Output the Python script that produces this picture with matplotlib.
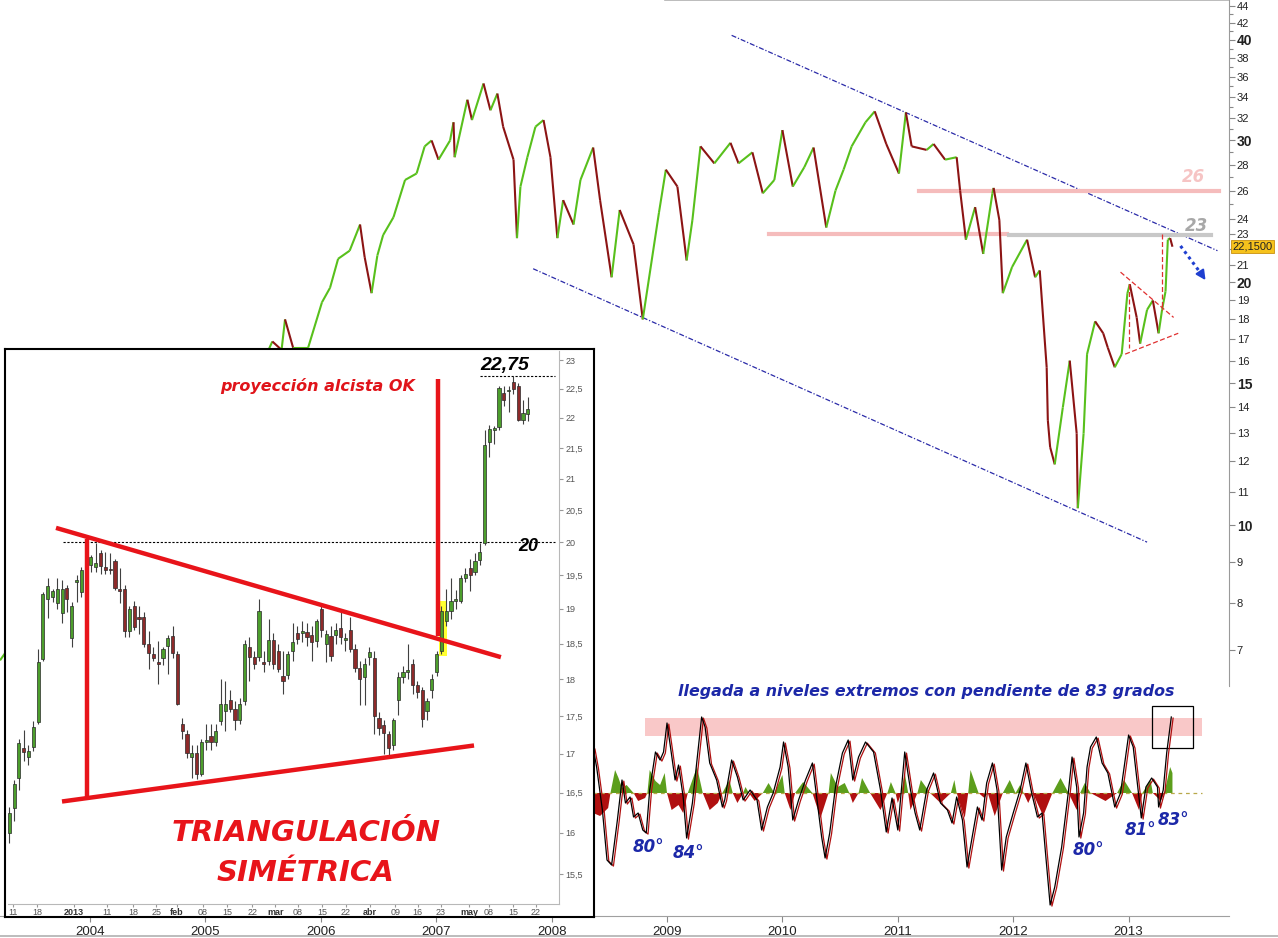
import numpy as np
import matplotlib
matplotlib.use("Agg")
import matplotlib.pyplot as plt
from matplotlib.collections import LineCollection
from matplotlib.patches import Rectangle
from matplotlib import transforms as mtrans

W, H = 1278, 938
plt.rcParams['font.family'] = ['DejaVu Sans']

# --------------------------------------------------------------------------- #
# Data
# --------------------------------------------------------------------------- #
# main price: decimal year, close (log scale, 2003-2013)
price_year = [2003.22, 2003.57, 2004.00, 2004.43, 2004.87, 2005.21, 2005.47, 2005.58,
              2005.66, 2005.69, 2005.76, 2005.89, 2006.01, 2006.08, 2006.15, 2006.25,
              2006.34, 2006.38, 2006.44, 2006.49, 2006.54, 2006.63, 2006.73, 2006.83,
              2006.90, 2006.96, 2007.02, 2007.12, 2007.15, 2007.16, 2007.27, 2007.31,
              2007.41, 2007.47, 2007.53, 2007.58, 2007.67, 2007.70, 2007.73, 2007.79,
              2007.86, 2007.93, 2007.99, 2008.05, 2008.10, 2008.19, 2008.25, 2008.36,
              2008.42, 2008.52, 2008.59, 2008.71, 2008.79, 2008.93, 2008.99, 2009.09,
              2009.17, 2009.22, 2009.29, 2009.41, 2009.55, 2009.62, 2009.74, 2009.83,
              2009.93, 2010.00, 2010.09, 2010.19, 2010.27, 2010.38, 2010.46, 2010.53,
              2010.60, 2010.72, 2010.80, 2010.90, 2011.01, 2011.07, 2011.12, 2011.25,
              2011.31, 2011.41, 2011.51, 2011.54, 2011.59, 2011.67, 2011.74, 2011.82,
              2011.83, 2011.88, 2011.91, 2011.99, 2012.12, 2012.19, 2012.23, 2012.29,
              2012.30, 2012.32, 2012.36, 2012.43, 2012.49, 2012.55, 2012.56, 2012.61,
              2012.64, 2012.71, 2012.78, 2012.82, 2012.88, 2012.94, 2012.99, 2013.01,
              2013.07, 2013.10, 2013.16, 2013.21, 2013.26, 2013.29, 2013.32, 2013.34,
              2013.36, 2013.38]
price_close = [6.8, 8.0, 9.6, 11.2, 12.8, 14.3, 15.6, 16.9,
               16.5, 18.0, 16.6, 16.6, 18.9, 19.7, 21.4, 21.9,
               23.6, 21.5, 19.4, 21.6, 22.9, 24.1, 26.8, 27.3,
               29.5, 30.0, 28.4, 30.0, 31.6, 28.6, 33.7, 31.8,
               35.3, 32.7, 34.3, 31.2, 28.4, 22.7, 26.3, 28.6,
               31.2, 31.8, 28.6, 22.7, 25.3, 23.6, 26.8, 29.4,
               25.3, 20.3, 24.6, 22.3, 18.0, 24.4, 27.6, 26.3,
               21.3, 23.9, 29.5, 28.1, 29.8, 28.1, 29.0, 25.8,
               26.8, 30.9, 26.3, 27.8, 29.4, 23.4, 26.0, 27.6,
               29.5, 31.6, 32.6, 29.7, 27.3, 32.5, 29.5, 29.2,
               29.7, 28.4, 28.6, 26.0, 22.6, 24.8, 21.7, 25.8,
               26.2, 23.9, 19.4, 20.9, 22.6, 20.3, 20.7, 15.7,
               13.5, 12.5, 11.9, 14.0, 16.0, 13.0, 10.5, 13.0,
               16.3, 17.9, 17.3, 16.6, 15.7, 16.3, 19.4, 19.9,
               18.1, 16.8, 18.5, 19.0, 17.3, 18.5, 19.5, 22.6,
               22.7, 22.15]

price_ticks = [7, 8, 9, 10, 11, 12, 13, 14, 15, 16, 17, 18, 19, 20, 21, 23, 24,
               26, 28, 30, 32, 34, 36, 38, 40, 42, 44]
price_bold = [10, 15, 20, 30, 40]
price_minor = [22, 25, 27, 29, 31, 33, 35, 37, 39, 41, 43]
years = list(range(2004, 2014))

# oscillator (black/red lines) and histogram
osc_year = [2008.36, 2008.39, 2008.44, 2008.48, 2008.52, 2008.57, 2008.61, 2008.64,
            2008.68, 2008.71, 2008.75, 2008.79, 2008.82, 2008.85, 2008.90, 2008.94,
            2008.97, 2009.00, 2009.03, 2009.07, 2009.10, 2009.14, 2009.17, 2009.22,
            2009.26, 2009.30, 2009.33, 2009.37, 2009.43, 2009.48, 2009.50, 2009.56,
            2009.61, 2009.66, 2009.72, 2009.78, 2009.82, 2009.87, 2009.92, 2009.98,
            2010.01, 2010.05, 2010.09, 2010.14, 2010.20, 2010.26, 2010.30, 2010.34,
            2010.37, 2010.41, 2010.46, 2010.52, 2010.57, 2010.61, 2010.66, 2010.72,
            2010.79, 2010.85, 2010.90, 2010.95, 2011.00, 2011.06, 2011.11, 2011.15,
            2011.19, 2011.25, 2011.31, 2011.37, 2011.43, 2011.47, 2011.51, 2011.56,
            2011.60, 2011.64, 2011.69, 2011.73, 2011.77, 2011.82, 2011.86, 2011.90,
            2011.94, 2012.00, 2012.06, 2012.11, 2012.16, 2012.21, 2012.25, 2012.28,
            2012.32, 2012.36, 2012.42, 2012.48, 2012.51, 2012.55, 2012.57, 2012.61,
            2012.64, 2012.67, 2012.72, 2012.77, 2012.82, 2012.88, 2012.93, 2012.97,
            2013.00, 2013.04, 2013.11, 2013.15, 2013.20, 2013.25, 2013.26, 2013.30,
            2013.33, 2013.37]
osc_val = [45, 26, -17, -67, -72, -27, 13, -10,
           -4, -24, -20, -37, -40, 3, 41, 33,
           41, 70, 46, 13, 28, -4, -45, -10,
           33, 76, 66, 30, 13, -14, -7, 33,
           16, -7, 3, -7, -37, -14, 0, 26,
           51, 26, -27, -7, 13, 30, -7, -44,
           -65, -40, 6, 40, 53, 13, 36, 51,
           41, 3, -39, -5, -37, 41, 3, -20,
           -37, 3, 20, -10, -17, -30, -4, -27,
           -74, -47, -14, -27, 10, 30, 3, -77,
           -44, -20, 3, 30, 0, -24, -20, -60,
           -112, -94, -54, 3, 36, 6, -44, -20,
           26, 46, 56, 30, 20, -14, 0, 33,
           58, 46, -25, 6, 15, 6, -14, 3,
           40, 76]
hist_year = [2008.36, 2008.42, 2008.49, 2008.51, 2008.55, 2008.58, 2008.61, 2008.65,
             2008.71, 2008.75, 2008.81, 2008.83, 2008.85, 2008.90, 2008.94, 2008.98,
             2009.00, 2009.04, 2009.10, 2009.14, 2009.18, 2009.26, 2009.31, 2009.37,
             2009.44, 2009.48, 2009.54, 2009.57, 2009.61, 2009.66, 2009.68, 2009.71,
             2009.76, 2009.83, 2009.88, 2009.93, 2010.00, 2010.02, 2010.07, 2010.11,
             2010.18, 2010.26, 2010.33, 2010.40, 2010.42, 2010.48, 2010.54, 2010.58,
             2010.61, 2010.66, 2010.69, 2010.76, 2010.85, 2010.91, 2010.94, 2010.98,
             2011.00, 2011.03, 2011.06, 2011.09, 2011.11, 2011.17, 2011.20, 2011.28,
             2011.37, 2011.46, 2011.49, 2011.51, 2011.58, 2011.61, 2011.63, 2011.70,
             2011.75, 2011.78, 2011.84, 2011.91, 2011.97, 2012.02, 2012.06, 2012.09,
             2012.13, 2012.17, 2012.26, 2012.34, 2012.41, 2012.48, 2012.55, 2012.58,
             2012.62, 2012.67, 2012.80, 2012.90, 2012.96, 2013.03, 2013.09, 2013.12,
             2013.19, 2013.21, 2013.28, 2013.31, 2013.36, 2013.38]
hist_val = [-20, -23, -15, 0, 23, 15, 5, 8,
            0, -8, -5, 0, 23, 12, 8, 20,
            0, -17, -12, -20, 0, 26, 0, -17,
            -10, 0, 13, 0, -10, 0, 6, 0,
            -8, 0, 10, 0, 18, 0, -17, 0,
            11, 0, -25, 0, 20, 6, 10, 0,
            -10, 0, 15, 0, -17, 0, 11, 0,
            -10, 0, 20, 0, -17, 0, 13, 0,
            -10, 0, 13, 0, -25, 0, 23, 0,
            -5, 0, -23, 0, 13, 0, 8, 0,
            -10, 0, -23, 0, 15, 0, -17, 0,
            10, 0, -8, 0, 13, 0, -17, 0,
            13, 0, -8, 0, 26, 20]

# inset: daily candles Dec 2012 - May 2013
c_open = [16.00, 16.31, 16.69, 17.08, 16.96, 17.09, 17.42, 18.29, 19.14, 19.17,
          19.09, 18.94, 19.31, 18.58, 19.40, 19.25, 19.75, 19.65, 19.62, 19.83,
          19.62, 19.59, 19.72, 19.29, 19.29, 18.68, 19.05, 18.88, 18.89, 18.50,
          18.36, 18.24, 18.30, 18.47, 18.61, 18.36, 17.40, 17.26, 16.96, 17.01,
          16.74, 17.15, 17.23, 17.16, 17.43, 17.57, 17.72, 17.60, 17.45, 17.70,
          18.45, 18.31, 18.31, 18.24, 18.26, 18.55, 18.40, 18.05, 18.06, 18.40,
          18.65, 18.65, 18.66, 18.62, 18.54, 19.00, 18.50, 18.61, 18.62, 18.72,
          18.55, 18.70, 18.42, 18.16, 18.04, 18.31, 18.30, 17.48, 17.38, 17.26,
          17.12, 17.72, 18.03, 18.10, 18.22, 17.92, 17.86, 17.57, 17.86, 18.10,
          18.40, 18.82, 18.97, 19.12, 19.12, 19.45, 19.60, 19.55, 19.73, 19.98,
          21.60, 21.80, 21.85, 22.42, 22.46, 22.62, 22.55, 21.96, 22.06]
c_high = [16.32, 16.66, 17.20, 17.32, 17.11, 17.43, 18.43, 19.25, 19.45, 19.30,
          19.45, 19.42, 19.35, 19.10, 19.50, 19.62, 19.95, 19.80, 19.98, 19.88,
          19.85, 19.83, 19.75, 19.60, 19.35, 19.05, 19.12, 19.05, 18.95, 18.68,
          18.45, 18.54, 18.45, 18.62, 18.75, 18.40, 17.48, 17.32, 17.11, 17.11,
          17.20, 17.40, 17.40, 17.40, 18.00, 17.98, 17.85, 17.70, 17.75, 18.55,
          18.60, 18.40, 19.15, 18.40, 18.85, 18.65, 18.50, 18.40, 18.40, 18.80,
          18.75, 18.82, 18.79, 18.75, 18.85, 19.08, 18.70, 18.75, 18.80, 18.95,
          18.65, 18.88, 18.50, 18.25, 18.30, 18.45, 18.40, 17.55, 17.45, 17.30,
          17.48, 18.10, 18.18, 18.50, 18.28, 17.98, 17.90, 17.74, 18.08, 18.40,
          19.05, 19.30, 19.45, 19.28, 19.50, 19.60, 19.75, 19.83, 19.98, 21.80,
          21.88, 21.87, 22.55, 22.55, 22.55, 22.72, 22.60, 22.30, 22.35]
c_low = [15.88, 16.15, 16.53, 16.91, 16.86, 17.04, 17.40, 18.25, 18.87, 19.10,
         19.00, 18.80, 18.95, 18.45, 19.10, 19.17, 19.55, 19.55, 19.55, 19.52,
         19.52, 19.52, 19.28, 19.08, 18.60, 18.60, 18.70, 18.64, 18.45, 18.15,
         18.25, 17.93, 18.20, 18.08, 18.30, 17.65, 17.20, 16.95, 16.69, 16.68,
         16.72, 17.05, 17.05, 17.10, 17.38, 17.30, 17.55, 17.32, 17.40, 17.65,
         17.98, 18.15, 18.25, 18.10, 18.20, 18.15, 18.10, 17.80, 18.00, 18.26,
         18.50, 18.52, 18.47, 18.25, 18.45, 18.60, 18.24, 18.25, 18.50, 18.50,
         18.40, 18.38, 18.10, 17.65, 17.65, 18.20, 17.26, 17.25, 17.00, 16.98,
         17.05, 17.52, 17.95, 18.00, 17.80, 17.75, 17.35, 17.45, 17.75, 18.05,
         18.35, 18.75, 18.85, 19.00, 19.08, 19.40, 19.27, 19.50, 19.65, 19.95,
         21.35, 21.57, 21.80, 22.20, 22.10, 22.40, 21.95, 21.90, 21.95]
c_close = [16.25, 16.61, 17.14, 17.03, 17.04, 17.36, 18.24, 19.22, 19.34, 19.27,
           19.29, 19.29, 19.14, 19.05, 19.42, 19.57, 19.65, 19.77, 19.68, 19.64,
           19.58, 19.57, 19.31, 19.26, 18.68, 19.00, 18.74, 18.85, 18.50, 18.37,
           18.30, 18.22, 18.43, 18.58, 18.37, 17.67, 17.30, 17.01, 17.01, 16.74,
           17.15, 17.18, 17.15, 17.30, 17.67, 17.67, 17.60, 17.45, 17.67, 18.50,
           18.31, 18.21, 18.97, 18.22, 18.55, 18.21, 18.15, 17.98, 18.36, 18.52,
           18.57, 18.67, 18.60, 18.52, 18.83, 18.70, 18.64, 18.33, 18.70, 18.59,
           18.55, 18.42, 18.16, 18.01, 18.21, 18.38, 17.50, 17.34, 17.28, 17.08,
           17.45, 18.03, 18.10, 18.13, 17.92, 17.83, 17.46, 17.70, 18.00, 18.35,
           18.97, 18.97, 19.12, 19.14, 19.45, 19.52, 19.50, 19.72, 19.85, 21.55,
           21.82, 21.82, 22.52, 22.30, 22.47, 22.50, 21.96, 22.08, 22.15]
inset_tick_pos = [0.8, 5.8, 13.5, 20.4, 25.8, 30.6, 34.9, 40.3, 45.4, 50.6, 55.4,
                  60.1, 65.1, 70.1, 75.1, 80.4, 85.1, 89.9, 95.8, 99.9, 104.9, 109.7]
inset_tick_lab = ["11", "18", "2013", "11", "18", "25", "feb", "08", "15", "22", "mar",
                  "08", "15", "22", "abr", "09", "16", "23", "may", "08", "15", "22"]
inset_bold = ["2013", "feb", "mar", "abr", "may"]
inset_yticks = [15.5, 16, 16.5, 17, 17.5, 18, 18.5, 19, 19.5, 20, 20.5, 21, 21.5,
                22, 22.5, 23]

GREEN, RED = "#58c01c", "#8c1414"
BLUE = "#1c28a8"
BI = dict(fontweight="bold", fontstyle="italic")


def px_rect(x0, y0, x1, y1):
    return [x0 / W, 1 - y1 / H, (x1 - x0) / W, (y1 - y0) / H]


fig = plt.figure(figsize=(W / 100, H / 100), dpi=100)
fig.patch.set_facecolor("white")

# --------------------------------------------------------------------------- #
# main price panel
# --------------------------------------------------------------------------- #
ax = fig.add_axes(px_rect(0, 0, 1229, 686))
ax.set_yscale("log")
ax.set_ylim(6.32, 44.8)
ax.set_xlim(2003.22, 2013.87)
for s in ("left", "bottom", "top"):
    ax.spines[s].set_visible(False)
ax.spines["right"].set_color("#9a9a9a")
ax.plot([0.541, 1], [1, 1], transform=ax.transAxes, color="#b0b0b0", lw=1.2, clip_on=False)
ax.set_xticks([])
ax.yaxis.tick_right()
ax.set_yticks(price_ticks)
ax.set_yticklabels([str(v) for v in price_ticks], family="Liberation Sans")
ax.set_yticks(price_minor, minor=True)
ax.set_yticklabels([], minor=True)
ax.tick_params(axis="y", which="major", length=4, width=0.8, color="#888888", pad=1.5,
               labelsize=8, labelcolor="#222222")
ax.tick_params(axis="y", which="minor", length=3, width=0.8, color="#888888")
for lbl, v in zip(ax.get_yticklabels(), price_ticks):
    if v in price_bold:
        lbl.set_fontweight("bold")
        lbl.set_fontsize(10)

py = np.array(price_year); pc = np.array(price_close)
pts = np.column_stack([py, pc])
segs = np.stack([pts[:-1], pts[1:]], axis=1)
cols = [GREEN if d >= 0 else RED for d in np.diff(pc)]
ax.add_collection(LineCollection(segs, colors=cols, linewidths=1.5, zorder=3))

# channel lines
ax.plot([2009.56, 2013.77], [40.5, 21.9], color="#2a2aa8", lw=0.9, ls=(0, (4, 1.5, 1, 1.5)))
ax.plot([2007.84, 2013.16], [20.8, 9.53], color="#2a2aa8", lw=0.9, ls=(0, (4, 1.5, 1, 1.5)))
# resistance levels
ax.plot([2011.18, 2013.78], [26.0, 26.0], color="#f5bcbc", lw=3, zorder=2)
ax.plot([2009.88, 2011.95], [23.0, 23.0], color="#f5bcbc", lw=3, zorder=2)
ax.plot([2011.96, 2013.71], [22.9, 22.9], color="#c8c8c8", lw=3, zorder=2)
ax.text(2013.56, 27.0, "26", color="#f6c4c4", fontsize=12, ha="center", va="center", **BI)
ax.text(2013.59, 23.5, "23", color="#a8a8a8", fontsize=12, ha="center", va="center", **BI)
# small triangle
tri = dict(color="#e03030", lw=0.9, ls=(0, (4, 2)), zorder=4)
ax.plot([2012.93, 2013.39], [20.6, 18.1], **tri)
ax.plot([2012.97, 2013.43], [16.3, 17.3], **tri)
ax.plot([2013.00, 2013.00], [19.9, 16.6], **tri)
ax.plot([2013.29, 2013.29], [23.0, 18.5], **tri)
# expected move
ax.plot([2013.45, 2013.64], [22.2, 20.4], color="#1f3fd0", lw=2.2, ls=(0, (1, 1.2)))
ax.annotate("", xy=(2013.68, 20.0), xytext=(2013.63, 20.5),
            arrowprops=dict(arrowstyle="-|>", color="#1f3fd0", lw=1.5, mutation_scale=14))
ax.text(1.003, 22.15, "22,1500", transform=mtrans.blended_transform_factory(ax.transAxes, ax.transData),
        fontsize=8, family="Liberation Sans", color="#222222", va="center", ha="left",
        bbox=dict(boxstyle="square,pad=0.15", facecolor="#f6c21c", edgecolor="#c89010", lw=0.6))

# --------------------------------------------------------------------------- #
# oscillator panel
# --------------------------------------------------------------------------- #
axi = fig.add_axes(px_rect(0, 686, 1229, 916))
axi.set_xlim(2003.22, 2013.87)
axi.set_ylim(-123, 107)
for s in ("left", "top", "right"):
    axi.spines[s].set_visible(False)
axi.spines["bottom"].set_color("#a0a0a0")
axi.set_yticks([])
axi.set_xticks(years)
axi.set_xticklabels([str(y) for y in years], family="Liberation Sans")
axi.tick_params(axis="x", length=4, color="#888888", labelsize=9.5, labelcolor="#222222", pad=3)

hy = np.array(hist_year); hv = np.array(hist_val)
axi.fill_between(hy, hv, 0, where=hv >= 0, interpolate=True, color="#5c9e1c", lw=0)
axi.fill_between(hy, hv, 0, where=hv <= 0, interpolate=True, color="#b01010", lw=0)
axi.plot([2008.36, 2013.64], [0, 0], color="#b8a84a", lw=0.9, ls=(0, (3, 3)))
axi.add_patch(Rectangle((2008.81, 57), 2013.64 - 2008.81, 18, color="#f9c8c8", lw=0, zorder=0))
axi.add_patch(Rectangle((2013.20, 45), 0.36, 42, fill=False, edgecolor="black", lw=0.9))
off = mtrans.ScaledTranslation(1.3 / 72, -0.8 / 72, fig.dpi_scale_trans)
axi.plot(osc_year, osc_val, color="#b01010", lw=0.9, transform=axi.transData + off)
axi.plot(osc_year, osc_val, color="black", lw=0.9)

axi.text(2011.25, 102, "llegada a niveles extremos con pendiente de 83 grados", color=BLUE,
         fontsize=11.4, ha="center", va="center", **BI)
for xx, yy, t in [(2008.84, -54, "80°"), (2009.19, -60, "84°"), (2012.65, -57, "80°"),
                  (2013.10, -37, "81°"), (2013.39, -27, "83°")]:
    axi.text(xx, yy, t, color=BLUE, fontsize=12, ha="center", va="center", **BI)

fig.add_artist(plt.Line2D([0, 1], [1 - 936 / H, 1 - 936 / H], color="#b0b0b0", lw=1.2))

# --------------------------------------------------------------------------- #
# inset: daily chart with the symmetrical triangle
# --------------------------------------------------------------------------- #
frame = fig.add_axes(px_rect(5, 349, 594, 917), zorder=5)
frame.set_facecolor("white")
frame.set_xticks([]); frame.set_yticks([])
for s in frame.spines.values():
    s.set_color("black"); s.set_linewidth(1.5)

axn = fig.add_axes(px_rect(8, 351, 559, 904), zorder=6)
axn.patch.set_alpha(0)
axn.set_yscale("log")
axn.set_ylim(15.15, 23.16)
axn.set_xlim(-0.27, 114.5)
for s in ("left", "top"):
    axn.spines[s].set_visible(False)
for s in ("right", "bottom"):
    axn.spines[s].set_color("#b8b8b8")
axn.yaxis.tick_right()
axn.set_yticks(inset_yticks)
axn.set_yticklabels([("%g" % v).replace(".", ",") for v in inset_yticks], family="Liberation Sans")
axn.set_yticks([], minor=True)
axn.tick_params(axis="y", length=3, color="#999999", labelsize=6.5, labelcolor="#555555", pad=1.5)
axn.set_xticks(inset_tick_pos)
axn.set_xticklabels(inset_tick_lab, family="Liberation Sans")
axn.tick_params(axis="x", length=2, color="#999999", labelsize=6.5, labelcolor="#555555", pad=1)
for lbl in axn.get_xticklabels():
    if lbl.get_text() in inset_bold:
        lbl.set_fontweight("bold"); lbl.set_color("#333333")

idx = np.arange(len(c_open))
co = np.array(c_open); cc = np.array(c_close)
axn.vlines(idx, c_low, c_high, color="#404040", lw=0.8, zorder=3)
body_col = ["#4c9e2c" if c >= o else "#8e2a2a" for o, c in zip(co, cc)]
axn.bar(idx, np.maximum(np.abs(cc - co), 0.025), bottom=np.minimum(co, cc), width=0.66,
        color=body_col, edgecolor="#2a2a2a", linewidth=0.5, zorder=4)

axn.add_patch(Rectangle((89.5, 18.32), 1.65, 0.80, color="#ffff30", lw=0, zorder=2))
axn.plot([11.2, 113.7], [20.0, 20.0], color="black", lw=0.8, ls=(0, (2, 1.5)), zorder=2)
axn.plot([98.1, 113.7], [22.72, 22.72], color="black", lw=0.8, ls=(0, (2, 1.5)), zorder=2)
thick = dict(color="#e8141a", lw=3.2, solid_capstyle="butt", zorder=5)
axn.plot([9.73, 102.4], [20.22, 18.31], **thick)
axn.plot([10.98, 96.8], [16.39, 17.11], **thick)
axn.plot([16.2, 16.2], [20.05, 16.45], **thick)
axn.plot([89.2, 89.2], [22.67, 18.61], **thick)

axn.text(64.3, 22.54, "proyección alcista OK", color="#e0141a", fontsize=11.5,
         ha="center", va="center", **BI)
axn.text(103.3, 22.9, "22,75", color="black", fontsize=14, family="Liberation Sans",
         ha="center", va="center", **BI)
axn.text(108.1, 19.93, "20", color="black", fontsize=13, family="Liberation Sans",
         ha="center", va="center", **BI)
axn.text(61.8, 16.0, "TRIANGULACIÓN", color="#e8141a", fontsize=21, ha="center", va="center", **BI)
axn.text(61.6, 15.52, "SIMÉTRICA", color="#e8141a", fontsize=21, ha="center", va="center", **BI)
axn.text(1.003, 22.15, "22,1500", transform=mtrans.blended_transform_factory(axn.transAxes, axn.transData),
         fontsize=6, family="Liberation Sans", color="#333333", va="center", ha="left",
         bbox=dict(boxstyle="square,pad=0.1", facecolor="#f2e040", edgecolor="none"), clip_on=True)

fig.savefig("out.png", dpi=100)
